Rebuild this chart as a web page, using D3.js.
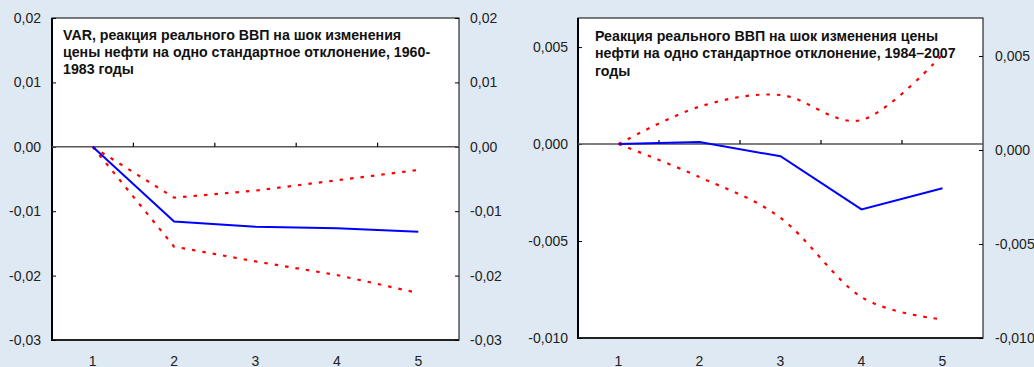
<!DOCTYPE html>
<html>
<head>
<meta charset="utf-8">
<script src="https://cdn.jsdelivr.net/npm/d3@7"></script>
<style>
  html, body { margin: 0; padding: 0; background: #dfe9f4; }
  svg { display: block; font-family: "Liberation Sans", Arial, sans-serif; }
</style>
</head>
<body>
<svg id="chart" width="1034" height="367"></svg>
<script>
// ---- data ----
const periods = ["1", "2", "3", "4", "5"];

// Panel A: 1960-1983
const aTitle = ["VAR, реакция реального ВВП на шок изменения",
                "цены нефти на одно стандартное отклонение, 1960-",
                "1983 годы"];
const aResponse = [0, -0.0116, -0.0124, -0.01265, -0.0132];
const aUpper    = [0, -0.0079, -0.0068, -0.0052, -0.0036];
const aLower    = [0, -0.0155, -0.0178, -0.0199, -0.0227];
const aTicks    = [0.02, 0.01, 0, -0.01, -0.02, -0.03];
const aTickLabels = ["0,02", "0,01", "0,00", "-0,01", "-0,02", "-0,03"];

// Panel B: 1984-2007
const bTitle = ["Реакция реального ВВП на шок изменения цены",
                "нефти на одно стандартное отклонение, 1984–2007",
                "годы"];
const bResponse = [0, 0.0001, -0.00063, -0.00337, -0.00228];
const bUpper    = [0, 0.00193, 0.00253, 0.00124, 0.00462];
const bLower    = [0, -0.0017, -0.0038, -0.00789, -0.00904];
const bTicks    = [0.005, 0, -0.005, -0.010];
const bTickLabels = ["0,005", "0,000", "-0,005", "-0,010"];

// ---- drawing ----
const svg = d3.select("#chart");

function panel(cfg) {
  const g = svg.append("g");
  const x = d3.scaleBand().domain(periods).range([cfg.x0, cfg.x1]).padding(0);
  const yL = d3.scaleLinear().domain(cfg.domainL).range([cfg.y1, cfg.y0]);
  const yR = d3.scaleLinear().domain(cfg.domainR).range([cfg.y1, cfg.y0]);

  // plot area
  g.append("rect").attr("x", cfg.x0).attr("y", cfg.y0)
    .attr("width", cfg.x1 - cfg.x0).attr("height", cfg.y1 - cfg.y0)
    .attr("fill", "#fff").attr("stroke", "#000").attr("stroke-width", 1);
  g.append("line").attr("x1", cfg.x0).attr("x2", cfg.x0).attr("y1", cfg.y0).attr("y2", cfg.y1 + 1)
    .attr("stroke", "#000").attr("stroke-width", 2);
  g.append("line").attr("x1", cfg.x0).attr("x2", cfg.x1).attr("y1", cfg.y1).attr("y2", cfg.y1)
    .attr("stroke", "#222").attr("stroke-width", 2);

  // left axis
  const axL = d3.axisLeft(yL).tickValues(cfg.ticks).tickSize(-4).tickPadding(11)
    .tickFormat((d, i) => cfg.labels[i]);
  const gl = g.append("g").attr("transform", `translate(${cfg.x0},0)`).call(axL);
  // right axis
  const axR = d3.axisRight(yR).tickValues(cfg.ticks).tickSize(-4).tickPadding(11)
    .tickFormat((d, i) => cfg.labels[i]);
  const gr = g.append("g").attr("transform", `translate(${cfg.x1},0)`).call(axR);
  [gl, gr].forEach(a => {
    a.select(".domain").remove();
    a.selectAll("line").attr("stroke", "#000");
    a.selectAll("text").attr("font-size", 14).attr("fill", "#222")
      .attr("font-family", "Liberation Sans, Arial, sans-serif");
  });
  gr.selectAll("text").attr("x", 4 + cfg.rightLabelGap);
  gl.selectAll("text").attr("x", -cfg.leftLabelGap);

  // zero line
  g.append("line").attr("x1", cfg.x0).attr("x2", cfg.x1)
    .attr("y1", yL(0)).attr("y2", yL(0)).attr("stroke", "#555").attr("stroke-width", 1.6);
  // category ticks on zero line (band boundaries)
  g.selectAll("line.ct").data(periods.slice(1)).join("line").attr("class", "ct")
    .attr("x1", d => x(d)).attr("x2", d => x(d))
    .attr("y1", yL(0) - 4).attr("y2", yL(0)).attr("stroke", "#000").attr("stroke-width", 1.2);

  // x labels
  g.selectAll("text.xl").data(periods).join("text").attr("class", "xl")
    .attr("x", d => x(d) + x.bandwidth() / 2).attr("y", 366)
    .attr("text-anchor", "middle").attr("font-size", 14).attr("fill", "#222").text(d => d);

  const cx = d => x(d) + x.bandwidth() / 2;
  const straight = d3.line().x((d, i) => cx(periods[i])).y(d => yL(d));
  const band = cfg.smooth
    ? d3.line().x((d, i) => cx(periods[i])).y(d => yL(d)).curve(d3.curveCardinal.tension(0))
    : straight;

  [cfg.upper, cfg.lower].forEach(s => {
    g.append("path").attr("d", band(s)).attr("fill", "none")
      .attr("stroke", "#ff0000").attr("stroke-width", 2.2).attr("stroke-dasharray", "3.5,7");
  });
  g.append("path").attr("d", straight(cfg.response)).attr("fill", "none")
    .attr("stroke", "#0000ff").attr("stroke-width", 2);

  // title
  const t = g.append("text").attr("font-size", 14.2).attr("font-weight", "bold").attr("fill", "#111");
  cfg.title.forEach((line, i) => {
    t.append("tspan").attr("x", cfg.titleX).attr("y", cfg.titleY + i * 17.4).text(line);
  });
}

panel({
  x0: 52, x1: 459, y0: 18, y1: 340,
  domainL: [-0.03, 0.02], domainR: [-0.03, 0.02],
  ticks: aTicks, labels: aTickLabels,
  leftLabelGap: 11, rightLabelGap: 7,
  upper: aUpper, lower: aLower, response: aResponse, smooth: false,
  title: aTitle, titleX: 63, titleY: 39.5
});

panel({
  x0: 578, x1: 983, y0: 18, y1: 338,
  domainL: [-0.010, 0.0065], domainR: [-0.010, 0.00702],
  ticks: bTicks, labels: bTickLabels,
  leftLabelGap: 10, rightLabelGap: 8,
  upper: bUpper, lower: bLower, response: bResponse, smooth: true,
  title: bTitle, titleX: 595, titleY: 41
});
</script>
</body>
</html>
